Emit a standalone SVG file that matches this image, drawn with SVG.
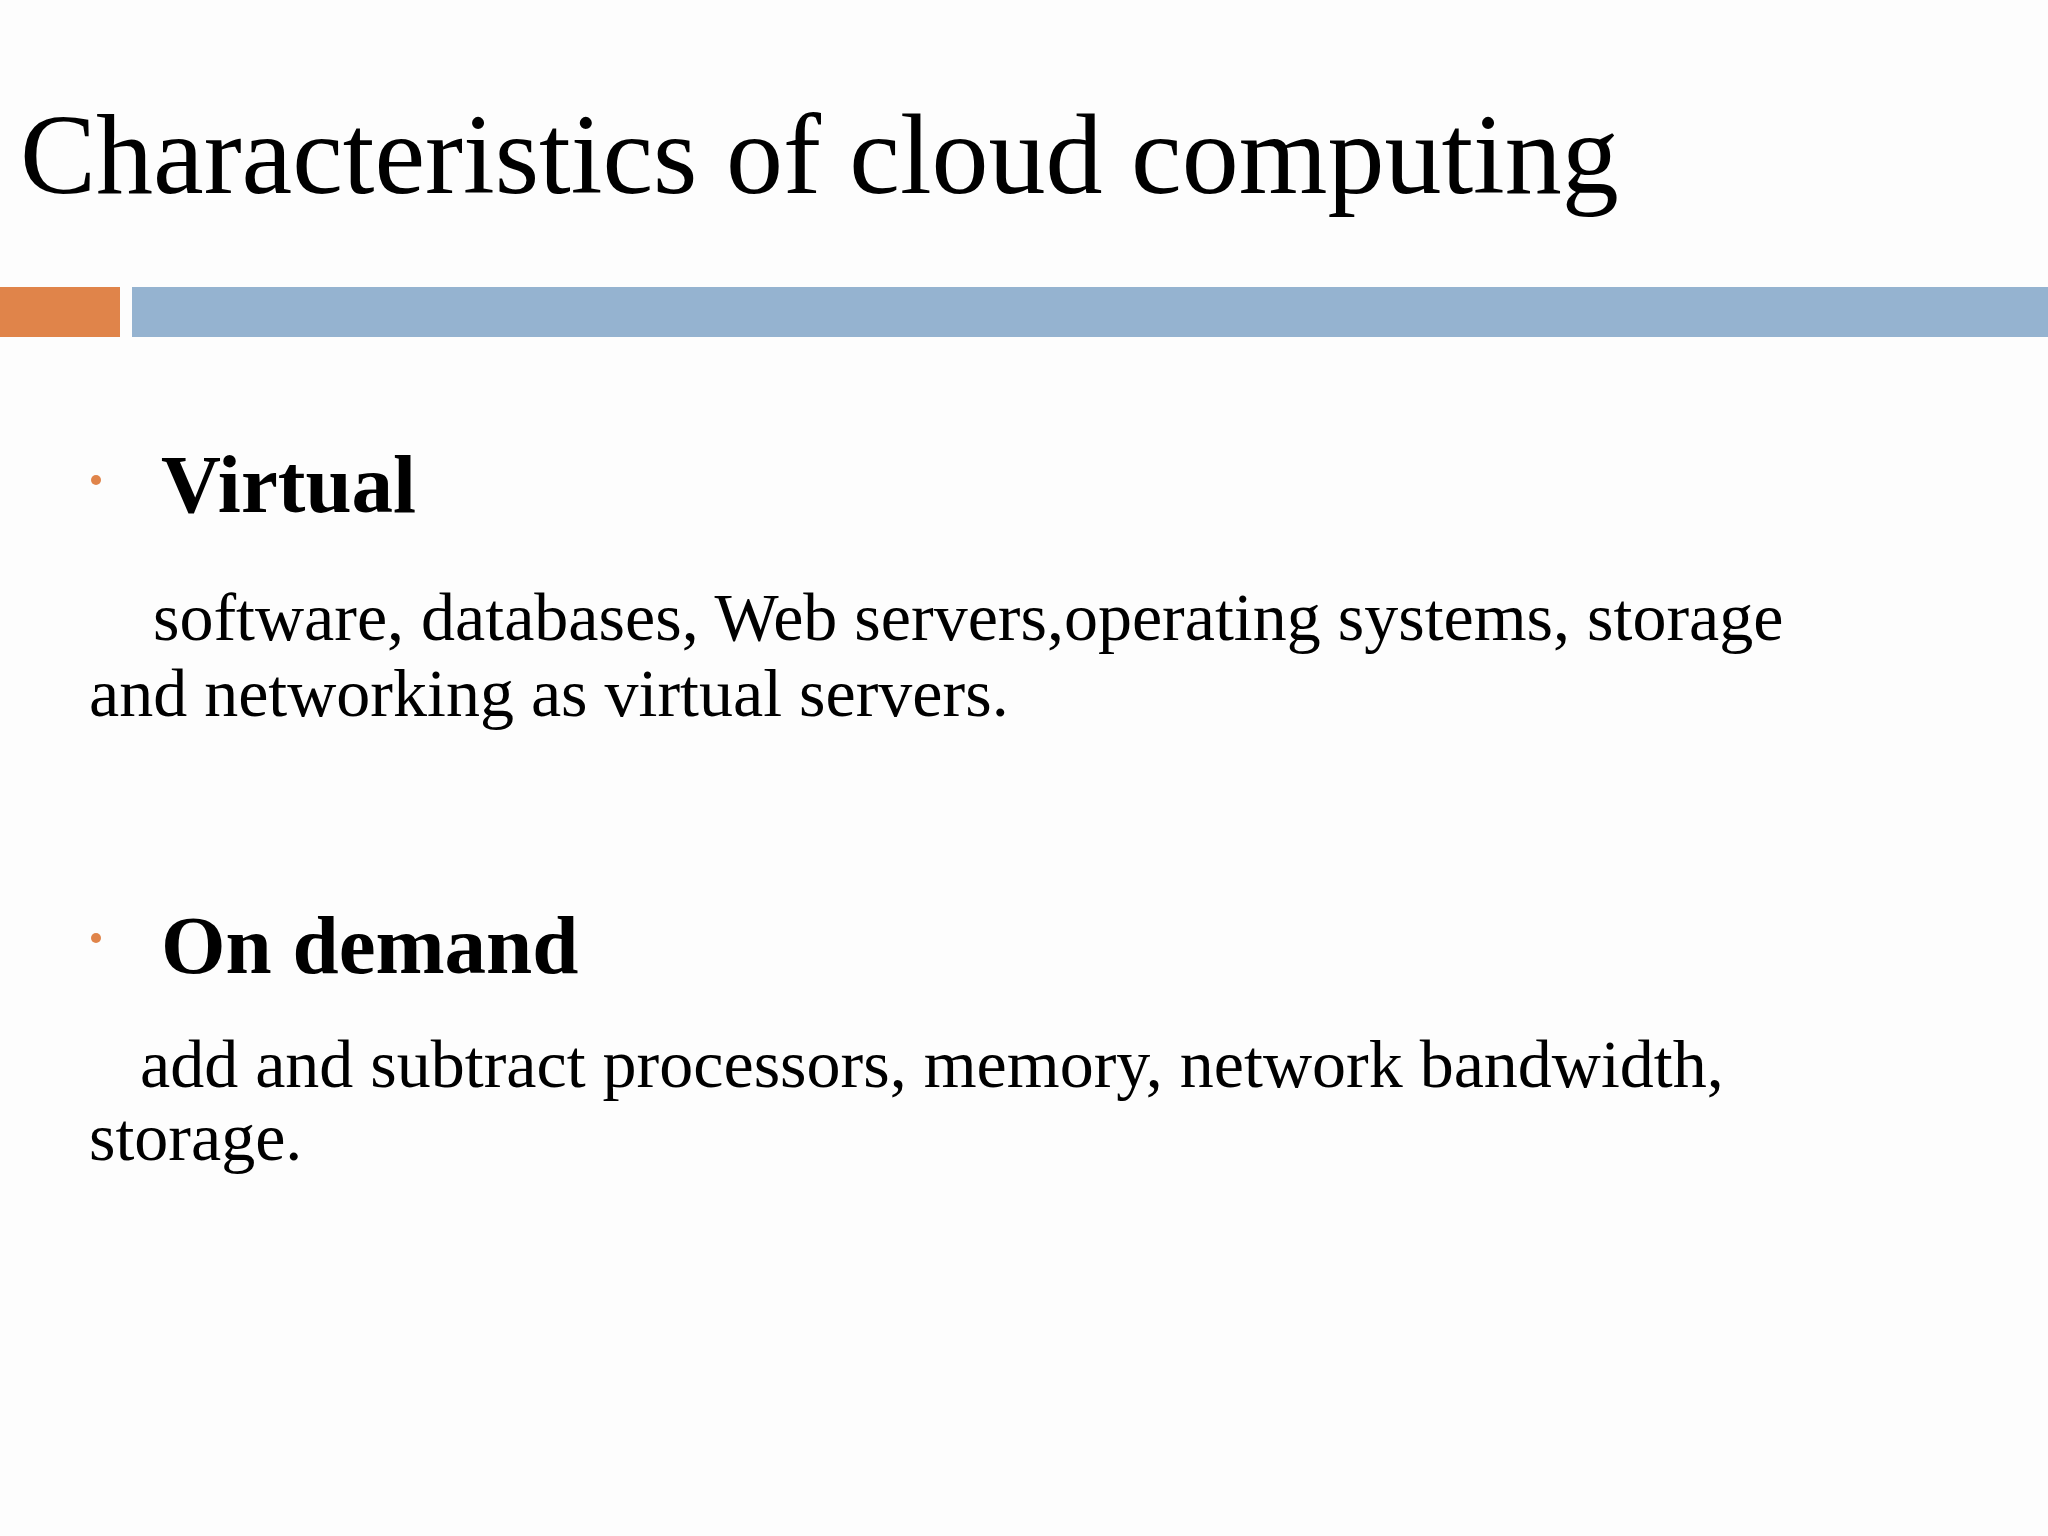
<svg xmlns="http://www.w3.org/2000/svg" width="2048" height="1536" viewBox="0 0 2048 1536">
<style>
text{font-family:"Liberation Serif","Times New Roman",serif;fill:#000}
.h{font-size:83px;font-weight:bold}
.b{font-size:68px}
.dot{fill:#E0844A}
</style>
<rect width="2048" height="1536" fill="#FDFDFD"/>
<g id="title"><text x="20" y="193" font-size="114">Characteristics of cloud computing</text></g>
<g id="bar">
<rect x="0" y="287" width="120" height="50" fill="#E0844A"/>
<rect x="132" y="287" width="1916" height="50" fill="#95B3D0"/>
</g>
<g id="virtual">
<circle class="dot" cx="96" cy="480" r="5"/>
<text class="h" x="161" y="512">Virtual</text>
<text class="b" x="153" y="640">software, databases, Web servers,operating systems, storage</text>
<text class="b" x="89" y="716">and networking as virtual servers.</text>
</g>
<g id="ondemand">
<circle class="dot" cx="96" cy="938" r="5"/>
<text class="h" x="161" y="973">On demand</text>
<text class="b" x="140" y="1087">add and subtract processors, memory, network bandwidth,</text>
<text class="b" x="89" y="1160">storage.</text>
</g>
<g id="connectors"/>
</svg>
